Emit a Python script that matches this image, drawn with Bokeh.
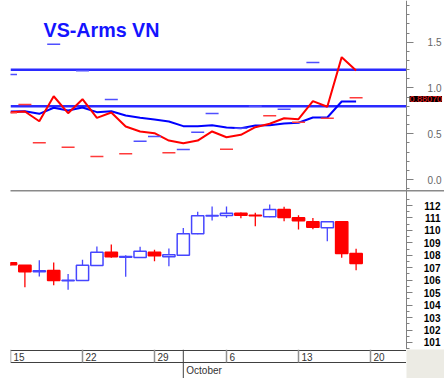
from bokeh.plotting import figure
from bokeh.layouts import column, row
from bokeh.models import (Range1d, LinearAxis, SingleIntervalTicker, FixedTicker,
                          Label, NumeralTickFormatter)
from bokeh.embed import file_html
from bokeh.resources import INLINE
from bokeh.core.properties import value

# ---------------- data ----------------
days = list(range(25))  # trading days from Mon 15 Sep to Fri 17 Oct

arms_raw = [0.735, 0.743, 0.637, 0.910, 0.725, 0.878, 0.674, 0.732, 0.579, 0.525,
            0.506, 0.426, 0.397, 0.426, 0.525, 0.462, 0.489, 0.572, 0.609, 0.670,
            0.659, 0.856, 0.795, 1.337, 1.191]
arms_avg = [0.743, 0.746, 0.718, 0.784, 0.754, 0.787, 0.736, 0.746, 0.699, 0.674,
            0.656, 0.634, 0.583, 0.583, 0.593, 0.568, 0.561, 0.590, 0.593, 0.612,
            0.620, 0.678, 0.678, 0.852, 0.852]

blue_dash_day = [0, 3, 5, 7, 9, 10, 12, 13, 14, 16, 17, 19, 21]
blue_dash_val = [1.148, 1.479, 1.188, 0.874, 0.419, 0.470, 0.328, 0.517, 0.721,
                 0.561, 0.801, 0.768, 1.279]
red_dash_day = [0, 1, 2, 4, 6, 8, 11, 15, 18, 20, 22, 24]
red_dash_val = [0.729, 0.820, 0.401, 0.353, 0.251, 0.281, 0.292, 0.331, 0.696,
                0.626, 0.670, 0.893]

band_levels = [1.2, 0.8]
last_value = 0.8807
last_value_text = "0.88070"
title_text = "VS-Arms VN"

opens = [107.40, 107.20, 106.68, 106.78, 105.95, 105.98, 107.18, 108.25, 107.85, 107.82,
         108.25, 107.88, 108.01, 109.73, 111.15, 111.20, 111.38, 111.22, 111.09, 111.68,
         111.01, 110.69, 110.21, 110.69, 108.14]
highs = [107.45, 107.20, 107.60, 107.42, 106.50, 107.64, 108.71, 108.87, 108.00, 108.68,
         108.44, 108.55, 110.20, 111.49, 111.92, 111.92, 111.44, 111.41, 112.08, 111.89,
         111.22, 111.00, 110.70, 110.69, 108.52]
lows = [107.15, 105.44, 106.30, 105.60, 105.23, 105.98, 107.15, 107.80, 106.27, 107.80,
        107.53, 107.12, 108.00, 109.70, 110.80, 111.01, 110.98, 110.34, 111.05, 110.74,
        110.07, 110.10, 109.13, 107.80, 106.80]
closes = [107.24, 106.67, 106.75, 105.98, 106.00, 107.20, 108.25, 107.88, 107.90, 108.33,
          107.96, 108.04, 109.73, 111.17, 111.20, 111.38, 111.22, 111.18, 111.68, 111.04,
          110.77, 110.26, 110.69, 108.14, 107.34]

price_ticks = [101, 102, 103, 104, 105, 106, 107, 108, 109, 110, 111, 112]

week_day_idx = [0, 5, 10, 15, 20, 25]
week_labels = ["15", "22", "29", "6", "13", "20"]
month_day_idx = [12]
month_labels = ["October"]

# ---------------- styling ----------------
FONT = "Liberation Sans"
RED = "#ff0000"
BLUE = "#0000ff"
HBLUE = "#2a2aff"
AXIS_GRAY = "#808080"
BEIGE = "#ecebe4"

PX_PER_DAY = 14.4
X0 = 0.0
AXIS_X = 27.5                       # where the value axis sits (x units)
X_END_WIDE = 434 / PX_PER_DAY       # frame of the two chart panels reaches the right edge
TOP_LO, TOP_HI, TOP_H = -0.120, 1.956, 190

xr_wide = Range1d(X0, X_END_WIDE)
xr_dates = Range1d(X0, AXIS_X)

common = dict(output_backend="svg", toolbar_location=None,
              min_border_left=10, min_border_right=0,
              min_border_top=0, min_border_bottom=0, x_axis_location=None,
              background_fill_color="white", border_fill_color="white")


def style_value_axis(ax, tick_len, minor_len, standoff, color, bold):
    ax.fixed_location = AXIS_X
    ax.axis_line_color = AXIS_GRAY
    ax.major_tick_line_color = AXIS_GRAY
    ax.minor_tick_line_color = AXIS_GRAY
    ax.major_tick_out = 0
    ax.major_tick_in = tick_len
    ax.minor_tick_out = 0
    ax.minor_tick_in = minor_len
    ax.major_label_standoff = standoff
    ax.major_label_text_color = color
    ax.major_label_text_font = FONT
    ax.major_label_text_font_size = "10px"
    ax.major_label_text_font_style = "bold" if bold else "normal"


# ---------------- top panel ----------------
top = figure(frame_width=434, frame_height=TOP_H, x_range=xr_wide,
             y_range=Range1d(TOP_LO, TOP_HI), y_axis_location="left", **common)
top.grid.visible = False
top.outline_line_color = None
ya = top.yaxis[0]
ya.ticker = SingleIntervalTicker(interval=0.5, num_minor_ticks=5)
ya.formatter = NumeralTickFormatter(format="0.0")
style_value_axis(ya, 7, 3, -35, "#666666", False)

n_band = len(band_levels)
top.segment(x0=[X0] * n_band, x1=[AXIS_X] * n_band, y0=band_levels, y1=band_levels,
            line_color=HBLUE, line_width=2.5)
top.line(days, arms_avg, line_color=BLUE, line_width=2)
top.line(days, arms_raw, line_color=RED, line_width=2)
top.scatter(blue_dash_day, blue_dash_val, marker="dash", size=13,
            line_color="#4f4fff", line_width=1.5)
top.scatter(red_dash_day, red_dash_val, marker="dash", size=13,
            line_color="#ff3b3b", line_width=1.5)

top.add_layout(Label(x=33, y=161, x_units="screen", y_units="screen",
                     text=title_text, text_color="#1414ff", text_font=FONT,
                     text_font_style="bold", text_font_size="19.7px",
                     text_baseline="middle"))
top.add_layout(Label(x=AXIS_X, x_offset=3, y=last_value, x_units="data", y_units="data",
                     text=last_value_text, text_color="#ff2020",
                     background_fill_color="black", text_font=FONT,
                     text_font_size="9px", text_baseline="middle"))

# ---------------- price panel ----------------
bot = figure(frame_width=434, frame_height=159, x_range=xr_wide,
             y_range=Range1d(100.434, 113.205), y_axis_location="left", **common)
bot.grid.visible = False
bot.outline_line_color = None
sep = LinearAxis(ticker=FixedTicker(ticks=[]), axis_line_color="#8a8a8a",
                 axis_line_width=2, major_tick_line_color=None,
                 minor_tick_line_color=None, major_label_text_font_size="0px")
bot.add_layout(sep, "above")
pa = bot.yaxis[0]
pa.ticker = FixedTicker(ticks=price_ticks,
                        minor_ticks=[t + 0.5 for t in [100] + price_ticks])
style_value_axis(pa, 6, 3, -34, "black", True)

up = [c >= o for o, c in zip(opens, closes)]
col = ["#4646ff" if u else RED for u in up]
fill = ["white" if u else RED for u in up]
body_top = [max(o, c) for o, c in zip(opens, closes)]
body_bot = [min(o, c) for o, c in zip(opens, closes)]
bot.segment(x0=days, y0=lows, x1=days, y1=highs, line_color=col, line_width=1.3)
bot.vbar(x=days, width=0.85, top=body_top, bottom=body_bot,
         fill_color=fill, line_color=col, line_width=1.5)

# ---------------- date strip ----------------
dates = figure(frame_width=396, frame_height=29, x_range=xr_dates,
               y_range=Range1d(0, 29), y_axis_location=None, **common)
dates.grid.visible = False
dates.outline_line_color = None
dates.hspan(y=[28.5, 16], line_color="#404040", line_width=1)
dates.segment(x0=week_day_idx, y0=16, x1=week_day_idx, y1=29,
              line_color="#909090", line_width=1.5)
dates.segment(x0=month_day_idx, y0=0, x1=month_day_idx, y1=29,
              line_color="#404040", line_width=1)
dates.text(x=week_day_idx, y=22, text=week_labels, x_offset=3,
           text_baseline="middle", text_font=value(FONT), text_font_size="10px",
           text_color="#333333")
dates.text(x=month_day_idx, y=8, text=month_labels, x_offset=3,
           text_baseline="middle", text_font=value(FONT), text_font_size="10px",
           text_color="#333333")

corner = figure(width=38, height=29, output_backend="svg", toolbar_location=None,
                x_axis_location=None, y_axis_location=None, min_border=0,
                background_fill_color=BEIGE, border_fill_color=BEIGE)
corner.outline_line_color = None
corner.grid.visible = False

layout = column(top, bot, row(dates, corner, spacing=0), spacing=0)
open("out.html", "w").write(file_html(layout, INLINE))
